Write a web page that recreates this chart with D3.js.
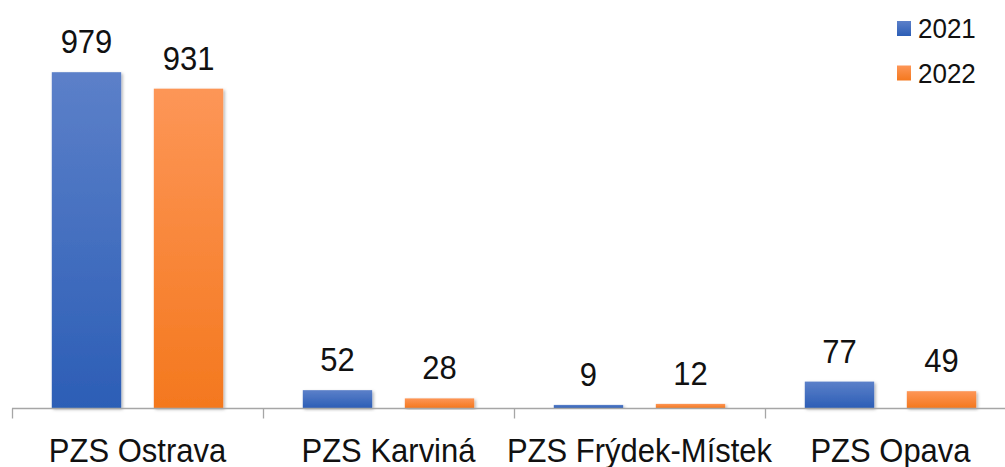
<!DOCTYPE html>
<html><head><meta charset="utf-8">
<script src="https://cdn.jsdelivr.net/npm/d3@7"></script>
<style>body{margin:0;background:#fff}svg{display:block}text{font-family:"Liberation Sans",Arial,sans-serif;fill:#111}</style>
</head><body><svg id="c" width="1005" height="467"></svg>
<script>
const categories = ["PZS Ostrava","PZS Karviná","PZS Frýdek-Místek","PZS Opava"];
const seriesNames = ["2021","2022"];
const values2021 = [979,52,9,77];
const values2022 = [931,28,12,49];

const svg = d3.select("#c");
const defs = svg.append("defs");
const grads = [["g0","#5c80c9","#2c5eb6"],["g1","#fd9657","#f4781e"]];
grads.forEach(([id,a,b])=>{
  const g = defs.append("linearGradient").attr("id",id).attr("x1",0).attr("y1",0).attr("x2",0).attr("y2",1);
  g.append("stop").attr("offset","0%").attr("stop-color",a);
  g.append("stop").attr("offset","100%").attr("stop-color",b);
});
const f = defs.append("filter").attr("id","sh").attr("x","-10%").attr("y","-10%").attr("width","130%").attr("height","130%");
f.append("feDropShadow").attr("dx",1.5).attr("dy",1.5).attr("stdDeviation",1.5).attr("flood-color","#000").attr("flood-opacity",0.3);

const x0 = d3.scaleBand().domain(categories).range([12,1016]).paddingInner(0).paddingOuter(0);
const x1 = d3.scaleBand().domain(seriesNames).range([0,x0.bandwidth()]).paddingInner(0.32).paddingOuter(0.39);
const y = d3.scaleLinear().domain([0,1000]).range([408,65]);

const data = categories.map((c,i)=>({cat:c, vals:[{s:"2021",v:values2021[i],k:0},{s:"2022",v:values2022[i],k:1}]}));

const groups = svg.append("g").selectAll("g").data(data).join("g")
  .attr("transform",d=>`translate(${x0(d.cat)},0)`);
groups.selectAll("rect").data(d=>d.vals).join("rect")
  .attr("x",d=>x1(d.s)).attr("width",x1.bandwidth())
  .attr("y",d=>y(d.v)).attr("height",d=>Math.max(2,y(0)-y(d.v)))
  .attr("fill",d=>`url(#g${d.k})`).attr("filter","url(#sh)");
groups.selectAll("text.v").data(d=>d.vals).join("text").attr("class","v")
  .attr("text-anchor","middle")
  .attr("transform",d=>`translate(${x1(d.s)+x1.bandwidth()/2},${y(d.v)-19}) scale(1,1.1)`)
  .style("font-size","31px").text(d=>d.v);

// axis
const ax = svg.append("g").attr("transform","translate(0,408.5)");
ax.append("line").attr("x1",12).attr("x2",1005).attr("stroke","#a6a6a6").attr("stroke-width",1.3);
ax.selectAll("line.t").data(categories).join("line").attr("class","t")
  .attr("x1",d=>x0(d)+0.5).attr("x2",d=>x0(d)+0.5).attr("y1",0).attr("y2",10)
  .attr("stroke","#a6a6a6").attr("stroke-width",1.3);
ax.selectAll("text").data(categories).join("text")
  .attr("text-anchor","middle")
  .attr("transform",d=>`translate(${x0(d)+x0.bandwidth()/2},53) scale(1,1.1)`)
  .style("font-size","31px").text(d=>d);

// legend
const lg = svg.append("g").selectAll("g").data(seriesNames).join("g")
  .attr("transform",(d,i)=>`translate(897,${21+i*44.5})`);
lg.append("rect").attr("width",14).attr("height",15).attr("fill",(d,i)=>`url(#g${i})`);
lg.append("text").attr("x",21).attr("y",0).attr("transform","translate(0,17) scale(1,1.05)")
  .style("font-size","26px").text(d=>d);
</script></body></html>
